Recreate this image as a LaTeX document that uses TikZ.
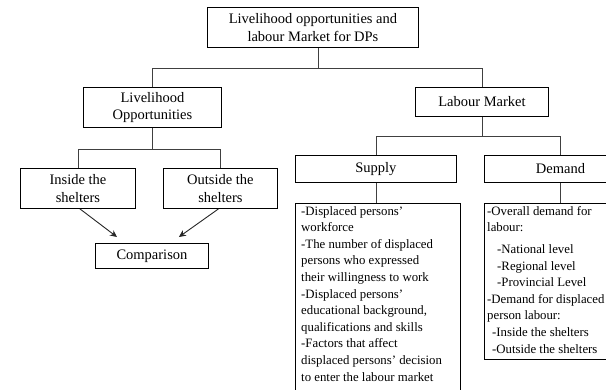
\documentclass[tikz,border=0pt]{standalone}
\usepackage{fontspec}
\setmainfont{Liberation Serif}
\usetikzlibrary{arrows.meta,calc}
\begin{document}
\begin{tikzpicture}[x=1pt,y=-1pt,
  box/.style={draw=black, line width=0.9pt, anchor=north west, inner sep=0pt, align=center,
    font=\fontsize{14.5}{17.5}\selectfont},
  frame/.style={draw=black, line width=0.9pt, anchor=north west, inner sep=0pt},
  detail/.style={anchor=north west, inner sep=0pt, align=left,
    font=\fontsize{12.8}{16.6}\selectfont},
  link/.style={draw=black!75, line width=0.8pt},
  arr/.style={draw=black!85, line width=0.9pt, -{Stealth[length=7pt,width=6.5pt]}}]
\useasboundingbox (0,0) rectangle (606,389);
\clip (0,0) rectangle (606,389);

% boxes
\node[box, minimum width=211pt, minimum height=40pt] (title) at (207,7)
  {Livelihood opportunities and\\labour Market for DPs};
\node[box, minimum width=138pt, minimum height=40pt] (liv) at (83,87)
  {Livelihood\\Opportunities};
\node[box, minimum width=133pt, minimum height=29pt] (lab) at (415,87)
  {Labour Market};
\node[box, minimum width=115pt, minimum height=40pt] (ins) at (20,168)
  {Inside the\\shelters};
\node[box, minimum width=114pt, minimum height=40pt] (out) at (163,168)
  {Outside the\\shelters};
\node[box, minimum width=113pt, minimum height=25pt] (cmp) at (95,243)
  {Comparison};
\node[box, minimum width=161pt, minimum height=27pt] (sup) at (295,155)
  {Supply};
\node[box, minimum width=152pt, minimum height=27pt] (dem) at (484,155)
  {Demand};

% detail boxes
\node[frame, minimum width=165pt, minimum height=200pt] (supdet) at (295,203) {};
\node[detail] (suptxt) at (301,206)
  {-Displaced persons’\\
   workforce\\
   -The number of displaced\\
   persons who expressed\\
   their willingness to work\\
   -Displaced persons’\\
   educational background,\\
   qualifications and skills\\
   -Factors that affect\\
   displaced persons’ decision\\
   to enter the labour market};
\node[frame, minimum width=152pt, minimum height=156pt] (demdet) at (484,203) {};
\node[detail] (demtxt) at (487,206)
  {-Overall demand for\\
   labour:\\[5pt]
   \hspace*{10pt}-National level\\
   \hspace*{10pt}-Regional level\\
   \hspace*{10pt}-Provincial Level\\
   -Demand for displaced\\
   person labour:\\
   \hspace*{5pt}-Inside the shelters\\
   \hspace*{5pt}-Outside the shelters};

% connectors
\coordinate (ts) at ($(title.south)+(5,0)$);
\coordinate (tj) at ($(ts)+(0,20)$);
\draw[link] (ts) -- (tj);
\draw[link] (liv.north) |- (tj) -| (lab.north);

\coordinate (lj) at ($(liv.south)+(0,21)$);
\draw[link] (liv.south) -- (lj);
\draw[link] (ins.north) |- (lj) -| (out.north);

\coordinate (mj) at ($(lab.south)+(0,19)$);
\draw[link] (lab.south) -- (mj);
\draw[link] (sup.north) |- (mj) -| (dem.north);

\draw[link] (sup.south) -- (sup.south |- supdet.north);
\draw[link] (dem.south) -- (dem.south |- demdet.north);

\draw[arr] ($(ins.south)+(2,0)$) -- ($(cmp.north west)+(22,-6)$);
\draw[arr] ($(out.south)+(-2,0)$) -- ($(cmp.north east)+(-30,-6)$);
\end{tikzpicture}
\end{document}
